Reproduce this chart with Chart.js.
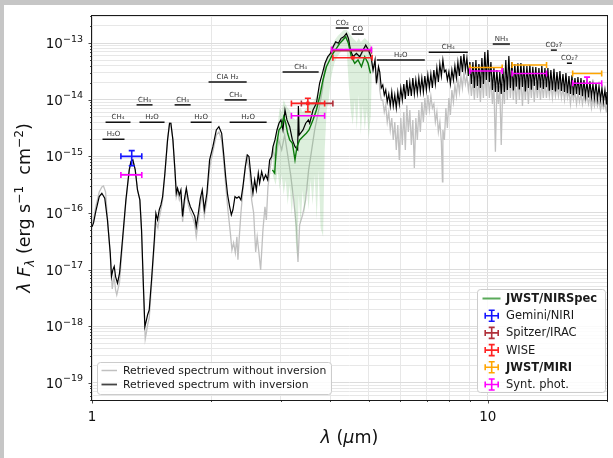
<!DOCTYPE html>
<html>
<head>
<meta charset="utf-8">
<script src="https://cdn.jsdelivr.net/npm/chart.js@4.4.1/dist/chart.umd.min.js"></script>
<style>
html,body{margin:0;padding:0;background:#fff;overflow:hidden;}
#wrap{position:relative;width:613px;height:458px;}
canvas{display:block;}
</style>
</head>
<body>
<div id="wrap"><canvas id="chart" width="613" height="458"></canvas></div>
<script>
// ---------------- DATA ----------------
// [wavelength (um), lambda*F_lambda (erg s^-1 cm^-2)]
const blackSpectrum = [
[1.000,5.69e-17],[1.009,6.68e-17],[1.022,1.06e-16],[1.043,1.95e-16],[1.059,2.23e-16],[1.077,1.82e-16],[1.094,7.55e-17],[1.112,1.98e-17],[1.120,7.55e-18],[1.129,9.9e-18],[1.138,1.14e-17],[1.147,7.55e-18],[1.160,5.78e-18],[1.174,8.79e-18],[1.194,3.36e-17],[1.218,1.70e-16],[1.242,5.75e-16],[1.254,8.07e-16],[1.268,8.65e-16],[1.286,5.75e-16],[1.303,2.55e-16],[1.321,1.70e-16],[1.334,5.04e-17],[1.347,6.61e-18],[1.360,9.9e-19],[1.373,1.30e-18],[1.382,1.60e-18],[1.395,1.95e-18],[1.414,6.61e-18],[1.437,3.36e-17],[1.450,9.9e-17],[1.464,7.55e-17],[1.479,1.14e-16],[1.493,1.39e-16],[1.508,1.95e-16],[1.528,5.04e-16],[1.552,1.95e-15],[1.570,3.84e-15],[1.582,3.84e-15],[1.601,1.95e-15],[1.620,5.75e-16],[1.633,2.23e-16],[1.645,2.74e-16],[1.662,2.08e-16],[1.677,2.55e-16],[1.694,8.65e-17],[1.711,1.70e-16],[1.731,2.74e-16],[1.751,1.70e-16],[1.771,1.30e-16],[1.795,1.06e-16],[1.819,8.65e-17],[1.834,5.75e-17],[1.856,9.9e-17],[1.878,1.82e-16],[1.899,2.55e-16],[1.922,1.14e-16],[1.951,2.23e-16],[1.982,8.65e-16],[2.020,1.48e-15],[2.061,2.92e-15],[2.092,3.34e-15],[2.126,2.55e-15],[2.150,1.14e-15],[2.176,4.39e-16],[2.201,2.08e-16],[2.227,1.30e-16],[2.249,9.25e-17],[2.270,1.14e-16],[2.297,1.95e-16],[2.323,1.82e-16],[2.350,1.95e-16],[2.378,1.70e-16],[2.406,2.92e-16],[2.440,6.58e-16],[2.468,1.06e-15],[2.492,9.9e-16],[2.512,5.75e-16],[2.531,3.36e-16],[2.550,2.23e-16],[2.576,3.84e-16],[2.601,2.55e-16],[2.631,5.04e-16],[2.651,3.36e-16],[2.683,5.37e-16],[2.714,3.84e-16],[2.746,4.70e-16],[2.778,3.84e-16],[2.811,8.65e-16],[2.844,9.9e-16],[2.866,1.48e-15],[2.899,1.95e-15],[2.933,2.92e-15],[2.967,3.84e-15],[3.002,4.39e-15],[3.037,2.92e-15],[3.073,6.58e-15],[3.108,4.39e-15],[3.158,3.34e-15],[3.208,1.95e-15],[3.257,1.48e-15],[3.308,1.30e-15],[3.322,7.74e-15],[3.337,2.38e-15],[3.412,2.92e-15],[3.466,3.84e-15],[3.521,4.39e-15],[3.548,3.84e-15],[3.617,6.58e-15],[3.689,8.65e-15],[3.759,1.95e-14],[3.820,2.92e-14],[3.878,4.39e-14],[3.940,5.73e-14],[4.003,6.58e-14],[4.064,8.6e-14],[4.128,1.05e-13],[4.193,9.9e-14],[4.257,1.21e-13],[4.325,1.29e-13],[4.393,1.48e-13],[4.445,1.21e-13],[4.497,7.52e-14],[4.565,5.73e-14],[4.656,6.58e-14],[4.747,5.73e-14],[4.839,7.52e-14],[4.915,9.2e-14],[4.993,7.52e-14],[5.069,5.73e-14],[5.129,3.34e-14],[5.188,5.01e-14],[5.232,1.95e-14],[5.294,3.82e-14],
[5.333,3.08e-14],[5.380,1.61e-14],[5.427,1.82e-14],[5.475,1.21e-14],[5.522,1.48e-14],[5.570,9.11e-15],[5.620,1.26e-14],[5.669,7.74e-15],[5.719,1.37e-14],[5.769,7.74e-15],[5.820,1.21e-14],[5.871,7.14e-15],[5.923,1.37e-14],[5.975,8.39e-15],[6.027,1.61e-14],[6.080,9.88e-15],[6.134,1.89e-14],[6.188,1.03e-14],[6.242,2.23e-14],[6.297,1.16e-14],[6.352,2.05e-14],[6.408,1.16e-14],[6.464,2.41e-14],[6.521,1.26e-14],[6.578,2.23e-14],[6.636,1.31e-14],[6.694,2.41e-14],[6.753,1.37e-14],[6.812,2.41e-14],[6.872,1.37e-14],[6.932,2.62e-14],[6.993,1.48e-14],[7.054,2.73e-14],[7.116,1.61e-14],[7.179,2.84e-14],[7.242,1.61e-14],[7.305,3.34e-14],[7.369,1.89e-14],[7.434,3.62e-14],[7.499,2.05e-14],[7.565,4.26e-14],[7.631,2.62e-14],[7.699,5.01e-14],[7.767,3.08e-14],[7.834,3.34e-14],[7.903,2.23e-14],[7.972,3.08e-14],[8.042,1.89e-14],[8.113,3.34e-14],[8.184,2.23e-14],[8.256,3.93e-14],[8.328,2.41e-14],[8.401,4.62e-14],[8.475,2.62e-14],[8.549,5.90e-14],[8.624,3.08e-14],[8.700,6.40e-14],[8.776,3.34e-14],[8.853,5.44e-14],[8.931,2.62e-14],[9.009,4.62e-14],[9.088,1.89e-14],[9.168,4.62e-14],[9.248,1.61e-14],[9.330,5.01e-14],[9.412,1.74e-14],[9.494,4.26e-14],[9.577,1.61e-14],[9.661,5.44e-14],[9.746,1.89e-14],[9.827,6.94e-14],[9.913,2.23e-14],[10.00,7.52e-14],[10.09,2.05e-14],[10.18,4.62e-14],[10.27,1.48e-14],[10.36,3.62e-14],[10.45,1.37e-14],[10.54,3.34e-14],[10.63,1.37e-14],[10.72,3.08e-14],[10.81,1.26e-14],[10.91,3.62e-14],[11.01,1.37e-14],[11.10,5.01e-14],[11.20,1.48e-14],[11.30,5.90e-14],[11.40,1.61e-14],[11.50,4.62e-14],[11.60,1.45e-14],[11.70,4.26e-14],[11.80,1.70e-14],[11.91,4.40e-14],[12.01,1.52e-14],[12.12,4.44e-14],[12.23,1.68e-14],[12.33,4.09e-14],[12.44,1.40e-14],[12.55,3.93e-14],[12.66,1.61e-14],[12.77,4.10e-14],[12.88,1.50e-14],[12.99,3.80e-14],[13.10,1.75e-14],[13.22,3.77e-14],[13.34,1.48e-14],[13.46,3.62e-14],[13.58,1.62e-14],[13.69,3.93e-14],[13.81,1.55e-14],[13.94,3.62e-14],[14.06,1.66e-14],[14.18,3.62e-14],[14.30,1.44e-14],[14.43,3.34e-14],[14.56,1.48e-14],[14.69,3.50e-14],[14.82,1.40e-14],[14.95,3.08e-14],[15.08,1.52e-14],[15.21,3.20e-14],[15.34,1.42e-14],[15.48,2.84e-14],[15.62,1.37e-14],[15.75,2.95e-14],[15.89,1.30e-14],[16.03,2.62e-14],[16.17,1.26e-14],[16.31,2.70e-14],[16.45,1.20e-14],[16.60,2.41e-14],[16.75,1.26e-14],[16.89,2.50e-14],[17.04,1.21e-14],[17.19,2.41e-14],[17.34,1.15e-14],[17.49,2.23e-14],[17.64,1.16e-14],[17.80,2.05e-14],[17.96,1.10e-14],[18.11,2.10e-14],[18.27,1.115e-14],[18.43,1.89e-14],[18.59,1.07e-14],[18.76,1.95e-14],[18.92,1.02e-14],[19.09,1.74e-14],[19.26,9.88e-15],[19.42,1.61e-14],[19.59,9.11e-15],[19.76,1.48e-14],[19.93,8.39e-15],[19.99,1.37e-14]
];

const greySpectrum = [
[1.000,6.42e-17],[1.009,7.55e-17],[1.022,1.28e-16],[1.043,2.36e-16],[1.059,2.89e-16],[1.069,3.00e-16],[1.082,2.36e-16],[1.094,8.19e-17],[1.112,1.75e-17],[1.125,4.58e-18],[1.133,6.61e-18],[1.138,7.46e-18],[1.147,4.40e-18],[1.155,3.59e-18],[1.174,6.09e-18],[1.194,2.85e-17],[1.218,1.57e-16],[1.242,5.75e-16],[1.254,8.30e-16],[1.268,8.64e-16],[1.286,5.75e-16],[1.303,2.55e-16],[1.321,1.70e-16],[1.334,4.64e-17],[1.347,5.39e-18],[1.363,6.0e-19],[1.373,8.0e-19],[1.382,1.06e-18],[1.395,1.41e-18],[1.414,5.39e-18],[1.437,2.74e-17],[1.450,6.97e-17],[1.467,5.46e-17],[1.479,8.19e-17],[1.493,1.13e-16],[1.508,1.70e-16],[1.528,4.70e-16],[1.552,1.95e-15],[1.570,3.88e-15],[1.582,3.88e-15],[1.601,1.95e-15],[1.620,5.31e-16],[1.633,1.92e-16],[1.645,2.36e-16],[1.662,1.70e-16],[1.677,2.09e-16],[1.694,6.97e-17],[1.711,1.39e-16],[1.731,2.36e-16],[1.751,1.39e-16],[1.771,1.05e-16],[1.795,8.53e-17],[1.819,6.17e-17],[1.834,3.79e-17],[1.856,6.97e-17],[1.878,1.39e-16],[1.899,2.09e-16],[1.922,8.89e-17],[1.951,1.70e-16],[1.982,6.24e-16],[2.020,1.20e-15],[2.061,2.38e-15],[2.092,2.69e-15],[2.126,1.95e-15],[2.150,8.64e-16],[2.176,3.13e-16],[2.205,1.13e-16],[2.236,4.46e-17],[2.257,2.23e-17],[2.279,2.97e-17],[2.302,1.98e-17],[2.323,3.79e-17],[2.337,1.49e-17],[2.353,3.35e-17],[2.378,1.00e-16],[2.406,2.55e-16],[2.454,9.76e-16],[2.502,5.75e-16],[2.531,1.70e-16],[2.561,1.00e-16],[2.591,2.06e-17],[2.614,3.79e-17],[2.641,1.98e-17],[2.667,9.92e-18],[2.703,5.03e-17],[2.735,1.28e-16],[2.757,7.55e-17],[2.783,2.89e-16],[2.822,6.50e-16],[2.865,1.30e-15],[2.911,8.64e-16],[2.962,1.95e-15],[3.014,1.30e-15],[3.067,2.38e-15],[3.121,1.06e-15],[3.176,4.70e-16],[3.232,1.70e-16],[3.283,5.69e-17],[3.314,1.37e-17],[3.346,6.17e-17],[3.405,9.26e-17],[3.465,1.70e-16],[3.526,5.75e-16],[3.589,1.30e-15],[3.652,2.92e-15],[3.717,5.37e-15],[3.781,9.88e-15],[3.826,1.61e-14],[3.878,4.2e-14],[3.940,5.5e-14],[4.003,6.3e-14],[4.064,8.2e-14],[4.128,1.0e-13],[4.193,9.5e-14],[4.257,1.15e-13],[4.325,1.23e-13],[4.393,1.4e-13],[4.445,1.15e-13],[4.497,7.2e-14],[4.565,5.5e-14],[4.656,6.3e-14],[4.747,5.5e-14],[4.839,7.2e-14],[4.915,8.8e-14],[4.993,7.2e-14],[5.069,5.5e-14],[5.129,3.2e-14],[5.188,4.8e-14],[5.232,1.85e-14],[5.294,3.6e-14],
[5.333,1.48e-14],[5.380,9.88e-15],[5.427,9.88e-15],[5.475,6.07e-15],[5.522,8.06e-15],[5.570,4.04e-15],[5.620,6.07e-15],[5.669,2.92e-15],[5.719,4.75e-15],[5.769,1.95e-15],[5.820,4.04e-15],[5.871,1.30e-15],[5.923,3.58e-15],[5.975,8.64e-16],[6.027,4.75e-15],[6.080,1.59e-15],[6.134,6.07e-15],[6.188,1.30e-15],[6.242,8.06e-15],[6.297,2.69e-15],[6.352,6.58e-15],[6.408,1.59e-15],[6.464,4.39e-15],[6.521,6.24e-16],[6.578,4.75e-15],[6.636,1.95e-15],[6.694,6.58e-15],[6.753,2.69e-15],[6.812,9.11e-15],[6.872,4.04e-15],[6.932,1.07e-14],[6.993,5.37e-15],[7.054,1.21e-14],[7.116,6.58e-15],[7.179,1.16e-14],[7.242,7.14e-15],[7.305,8.39e-15],[7.369,4.04e-15],[7.434,6.07e-15],[7.499,2.69e-15],[7.565,4.04e-15],[7.631,1.79e-15],[7.680,3.54e-16],[7.699,2.92e-15],[7.767,1.95e-15],[7.834,7.14e-15],[7.903,3.17e-15],[7.972,1.07e-14],[8.042,5.37e-15],[8.113,1.48e-14],[8.184,9.11e-15],[8.256,1.82e-14],[8.328,1.16e-14],[8.401,2.23e-14],[8.475,1.37e-14],[8.549,2.62e-14],[8.624,1.61e-14],[8.700,3.08e-14],[8.776,1.89e-14],[8.853,2.62e-14],[8.931,1.48e-14],[9.009,2.41e-14],[9.088,1.16e-14],[9.168,2.23e-14],[9.248,9.88e-15],[9.330,2.62e-14],[9.412,1.07e-14],[9.494,2.23e-14],[9.577,9.11e-15],[9.661,2.62e-14],[9.746,1.07e-14],[9.827,3.34e-14],[9.913,1.16e-14],[10.00,3.62e-14],[10.09,1.07e-14],[10.18,2.41e-14],[10.27,8.39e-15],[10.36,1.89e-14],[10.45,1.20e-15],[10.54,1.74e-14],[10.63,8.39e-15],[10.72,1.74e-14],[10.81,1.59e-15],[10.91,1.89e-14],[11.01,8.39e-15],[11.10,2.62e-14],[11.20,9.88e-15],[11.30,3.08e-14],[11.40,1.07e-14],[11.50,2.62e-14],[11.60,9.88e-15],[11.70,2.41e-14],[11.80,8.39e-15],[11.91,2.41e-14],[12.01,9.88e-15],[12.12,2.41e-14],[12.23,7.74e-15],[12.33,2.23e-14],[12.44,9.88e-15],[12.55,2.23e-14],[12.66,8.39e-15],[12.77,2.23e-14],[12.88,1.07e-14],[12.99,2.23e-14],[13.10,9.11e-15],[13.22,2.05e-14],[13.34,1.07e-14],[13.46,2.05e-14],[13.58,9.88e-15],[13.69,2.05e-14],[13.81,1.07e-14],[13.94,2.05e-14],[14.06,1.07e-14],[14.18,1.89e-14],[14.30,1.16e-14],[14.43,1.89e-14],[14.56,1.07e-14],[14.69,1.89e-14],[14.82,1.16e-14],[14.95,1.74e-14],[15.08,1.16e-14],[15.21,1.74e-14],[15.34,1.07e-14],[15.48,1.61e-14],[15.62,9.88e-15],[15.75,1.61e-14],[15.89,1.07e-14],[16.03,1.48e-14],[16.17,8.39e-15],[16.31,1.48e-14],[16.45,9.88e-15],[16.60,1.37e-14],[16.75,8.39e-15],[16.89,1.37e-14],[17.04,9.11e-15],[17.19,1.26e-14],[17.34,8.39e-15],[17.49,1.26e-14],[17.64,9.11e-15],[17.80,1.16e-14],[17.96,8.39e-15],[18.11,1.16e-14],[18.27,7.14e-15],[18.43,1.07e-14],[18.59,7.74e-15],[18.76,1.07e-14],[18.92,7.74e-15],[19.09,9.88e-15],[19.26,6.58e-15],[19.42,9.11e-15],[19.59,7.14e-15],[19.76,8.39e-15],[19.93,6.07e-15],[19.99,8.39e-15]
];

// JWST/NIRSpec spectrum
const nirspecLine = [
[2.856,5.75e-16],[2.894,5.03e-16],[2.922,1.48e-15],[2.967,2.92e-15],[3.009,3.34e-15],[3.050,5.01e-15],[3.086,3.84e-15],[3.121,2.55e-15],[3.158,1.95e-15],[3.208,1.70e-15],[3.257,8.64e-16],[3.295,1.48e-15],[3.346,1.95e-15],[3.412,2.23e-15],[3.479,2.55e-15],[3.533,2.92e-15],[3.616,4.39e-15],[3.689,6.58e-15],[3.759,1.13e-14],[3.833,2.23e-14],[3.910,3.82e-14],[3.986,5.01e-14],[4.064,6.58e-14],[4.145,8.06e-14],[4.226,9.88e-14],[4.305,1.13e-13],[4.374,1.29e-13],[4.443,9.88e-14],[4.521,5.73e-14],[4.610,4.39e-14],[4.700,5.01e-14],[4.794,3.82e-14],[4.887,5.73e-14],[4.982,4.39e-14],[5.052,2.92e-14]
];
// NIRSpec uncertainty envelope: [wavelength, lower, upper]
const nirspecBand = [
[2.861,4.70e-16,1.59e-15],[2.911,3.13e-16,2.38e-15],[2.945,5.75e-16,3.58e-15],[2.979,2.55e-16,7.14e-15],[3.014,4.70e-16,6.07e-15],[3.050,2.09e-16,9.88e-15],[3.086,3.84e-16,8.06e-15],[3.121,1.39e-16,7.14e-15],[3.158,3.13e-16,6.58e-15],[3.195,9.26e-17,5.37e-15],[3.232,2.55e-16,4.75e-15],[3.270,3.35e-17,4.39e-15],[3.299,1.61e-17,4.75e-15],[3.328,2.09e-16,6.58e-15],[3.367,6.17e-17,7.14e-15],[3.405,2.55e-16,6.07e-15],[3.445,9.26e-17,6.58e-15],[3.485,3.13e-16,7.14e-15],[3.526,1.13e-16,8.06e-15],[3.567,3.84e-16,8.39e-15],[3.609,1.39e-16,9.11e-15],[3.652,4.70e-16,9.88e-15],[3.695,7.55e-17,1.21e-14],[3.738,5.75e-16,1.48e-14],[3.781,5.46e-17,1.82e-14],[3.835,3.79e-17,2.73e-14],[3.871,1.30e-15,3.62e-14],[3.916,6.58e-15,4.62e-14],[3.963,9.88e-15,6.14e-14],[4.009,2.23e-14,7.52e-14],[4.056,3.34e-14,9.22e-14],[4.104,4.62e-14,1.13e-13],[4.176,5.90e-14,1.33e-13],[4.250,6.94e-14,1.50e-13],[4.324,8.16e-14,1.70e-13],[4.400,7.52e-14,1.70e-13],[4.452,1.82e-14,1.56e-13],[4.504,6.58e-15,1.38e-13],[4.557,3.58e-15,1.23e-13],[4.610,9.88e-15,1.13e-13],[4.665,2.92e-15,1.04e-13],[4.719,1.21e-14,1.23e-13],[4.775,2.38e-15,1.04e-13],[4.831,8.06e-15,1.13e-13],[4.887,2.92e-15,1.23e-13],[4.945,6.58e-15,1.13e-13],[5.003,2.11e-15,1.04e-13],[5.061,5.37e-15,9.22e-14],[5.090,2.23e-14,7.52e-14]
];

// photometry (error bars)
const geminiWave=[1.26], geminiWaveLo=[1.183], geminiWaveHi=[1.336];
const geminiFlux=[1.0e-15], geminiFluxLo=[0.68e-15], geminiFluxHi=[1.26e-15];
const spitzerWave=[3.71,4.52], spitzerWaveLo=[3.38,4.03], spitzerWaveHi=[4.06,5.08];
const spitzerFlux=[8.6e-15,7.3e-14];
const wiseWave=[3.51,4.56], wiseWaveLo=[3.19,4.06], wiseWaveHi=[3.87,5.10];
const wiseFlux=[8.6e-15,5.5e-14], wiseFluxLo=[6.1e-15,5.5e-14], wiseFluxHi=[1.06e-14,5.5e-14];
const miriWave=[9.90,12.73,17.81], miriWaveLo=[9.01,11.52,16.38], miriWaveHi=[10.87,14.07,19.39];
const miriFlux=[3.7e-14,4.1e-14,2.9e-14];
const synthWave=[1.26,3.51,4.52,9.90,12.73,17.81], synthWaveLo=[1.183,3.19,4.03,9.01,11.52,16.38], synthWaveHi=[1.336,3.87,5.08,10.87,14.07,19.39];
const synthFlux=[4.7e-16,5.2e-15,7.7e-14,3.2e-14,2.9e-14,1.95e-14], synthFluxHi=[4.7e-16,5.2e-15,7.7e-14,3.2e-14,2.9e-14,2.5e-14];

// molecular band annotations
const molLabels=['H₂O','CH₄','H₂O','CH₄','CH₄','H₂O','CIA H₂','CH₄','H₂O','CH₄','CO₂','CO','H₂O','CH₄','NH₃','CO₂?','CO₂?'];
const molStart=[1.063,1.082,1.318,1.296,1.617,1.775,1.970,2.163,2.227,3.03,4.128,4.53,5.24,7.09,10.29,14.43,15.84];
const molEnd=[1.208,1.251,1.525,1.422,1.775,2.005,2.459,2.459,2.762,3.738,4.453,4.86,6.93,8.90,11.37,14.94,16.31];
const molLevel=[2.0e-15,4.0e-15,4.0e-15,8.1e-15,8.1e-15,4.0e-15,2.05e-14,9.9e-15,4.0e-15,3.08e-14,1.84e-13,1.44e-13,5.0e-14,6.9e-14,9.6e-14,7.5e-14,4.4e-14];

// axes
const xTickValues=[1,2,3,4,5,6,7,8,9,10,20];
const xTickLabels={1:'1',10:'10'};
const yDecades=[1e-20,1e-19,1e-18,1e-17,1e-16,1e-15,1e-14,1e-13];
const yMantissas=[1,2,3,4,5,6,7,8,9];
const yLabelExponents=[-19,-18,-17,-16,-15,-14,-13];
const xMin=1, xMax=20, yMin=5e-20, yMax=3e-13;

const legendLeftLabels=['Retrieved spectrum without inversion','Retrieved spectrum with inversion'];
const legendRightLabels=['JWST/NIRSpec','Gemini/NIRI','Spitzer/IRAC','WISE','JWST/MIRI','Synt. phot.'];

// ---------------- CHART ----------------
const FONT='"DejaVu Sans", "Liberation Sans", sans-serif';
const COL={gemini:'#1414ff',spitzer:'#b0303a',wise:'#ff2222',miri:'#ffa500',synth:'#ff00ff'};
function pts(arr,i){ i=i||1; return arr.map(p=>({x:p[0],y:p[i]})); }

const yTicks=[];
yDecades.forEach(d=>yMantissas.forEach(m=>{const v=m*d; if(v>=yMin*0.999&&v<=yMax*1.001) yTicks.push({value:v,major:m===1});}));
const xTicks=xTickValues.map(v=>({value:v,major:(v===1||v===10)}));

function fontOf(s){ return (s.st||'')+' '+s.sz+'px '+FONT; }
function rich(ctx,segs,x,y,align){
  let total=0; const w=segs.map(s=>{ctx.font=fontOf(s); const m=ctx.measureText(s.t).width; total+=m; return m;});
  let cx= align==='center'? x-total/2 : (align==='right'? x-total : x);
  ctx.textAlign='left';
  segs.forEach((s,i)=>{ctx.font=fontOf(s); ctx.fillText(s.t,cx,y+(s.dy||0)); cx+=w[i];});
}
function rrect(ctx,x,y,w,h,r){
  ctx.beginPath(); ctx.moveTo(x+r,y); ctx.lineTo(x+w-r,y); ctx.quadraticCurveTo(x+w,y,x+w,y+r);
  ctx.lineTo(x+w,y+h-r); ctx.quadraticCurveTo(x+w,y+h,x+w-r,y+h); ctx.lineTo(x+r,y+h);
  ctx.quadraticCurveTo(x,y+h,x,y+h-r); ctx.lineTo(x,y+r); ctx.quadraticCurveTo(x,y,x+r,y); ctx.closePath();
}
function errbars(ctx,xs,ys,color,wave,wLo,wHi,flux,fLo,fHi){
  ctx.strokeStyle=color; ctx.lineWidth=1.6;
  for(let i=0;i<wave.length;i++){
    const px=xs.getPixelForValue(wave[i]), py=ys.getPixelForValue(flux[i]);
    const x0=xs.getPixelForValue(wLo[i]), x1=xs.getPixelForValue(wHi[i]);
    ctx.beginPath();
    ctx.moveTo(x0,py); ctx.lineTo(x1,py);
    ctx.moveTo(x0,py-3); ctx.lineTo(x0,py+3);
    ctx.moveTo(x1,py-3); ctx.lineTo(x1,py+3);
    const lo=fLo?fLo[i]:flux[i], hi=fHi?fHi[i]:flux[i];
    if(lo!==hi){
      const y0=ys.getPixelForValue(lo), y1=ys.getPixelForValue(hi);
      ctx.moveTo(px,y0); ctx.lineTo(px,y1);
      ctx.moveTo(px-3,y0); ctx.lineTo(px+3,y0);
      ctx.moveTo(px-3,y1); ctx.lineTo(px+3,y1);
    }
    ctx.stroke();
  }
}
function errIcon(ctx,cx,cy,color){
  ctx.strokeStyle=color; ctx.lineWidth=1.6; ctx.beginPath();
  ctx.moveTo(cx-6.5,cy); ctx.lineTo(cx+6.5,cy);
  ctx.moveTo(cx-6.5,cy-3); ctx.lineTo(cx-6.5,cy+3);
  ctx.moveTo(cx+6.5,cy-3); ctx.lineTo(cx+6.5,cy+3);
  ctx.moveTo(cx,cy-5.5); ctx.lineTo(cx,cy+5.5);
  ctx.moveTo(cx-3,cy-5.5); ctx.lineTo(cx+3,cy-5.5);
  ctx.moveTo(cx-3,cy+5.5); ctx.lineTo(cx+3,cy+5.5);
  ctx.stroke();
}

const decor={
  id:'decor',
  beforeDraw(chart){
    const c=chart.ctx; c.save();
    c.fillStyle='#c6c6c6'; c.fillRect(0,0,chart.width,chart.height);
    c.fillStyle='#ffffff'; c.fillRect(4,5,chart.width-4,chart.height-5);
    c.restore();
  },
  afterDatasetsDraw(chart){
    const ctx=chart.ctx, a=chart.chartArea, xs=chart.scales.x, ys=chart.scales.y;
    ctx.save();
    // molecular annotations
    ctx.textBaseline='alphabetic';
    for(let i=0;i<molLabels.length;i++){
      const x0=xs.getPixelForValue(molStart[i]), x1=xs.getPixelForValue(molEnd[i]), py=ys.getPixelForValue(molLevel[i]);
      ctx.strokeStyle='#111'; ctx.lineWidth=1.5; ctx.beginPath(); ctx.moveTo(x0,py); ctx.lineTo(x1,py); ctx.stroke();
      ctx.fillStyle='#333';
      rich(ctx,[{t:molLabels[i],sz:7}],(x0+x1)/2,py-3,'center');
    }
    // error bars
    errbars(ctx,xs,ys,COL.gemini,geminiWave,geminiWaveLo,geminiWaveHi,geminiFlux,geminiFluxLo,geminiFluxHi);
    errbars(ctx,xs,ys,COL.spitzer,spitzerWave,spitzerWaveLo,spitzerWaveHi,spitzerFlux,null,null);
    errbars(ctx,xs,ys,COL.wise,wiseWave,wiseWaveLo,wiseWaveHi,wiseFlux,wiseFluxLo,wiseFluxHi);
    ctx.fillStyle=COL.wise;
    wiseWave.forEach((w,i)=>{const px=xs.getPixelForValue(w),py=ys.getPixelForValue(wiseFlux[i]); ctx.fillRect(px-1.8,py-1.8,3.6,3.6);});
    errbars(ctx,xs,ys,COL.miri,miriWave,miriWaveLo,miriWaveHi,miriFlux,null,null);
    errbars(ctx,xs,ys,COL.synth,synthWave,synthWaveLo,synthWaveHi,synthFlux,synthFlux,synthFluxHi);

    // frame
    ctx.strokeStyle='#1a1a1a'; ctx.lineWidth=1;
    ctx.strokeRect(Math.round(a.left)-0.5,Math.round(a.top)-0.5,Math.round(a.right-a.left)+1,Math.round(a.bottom-a.top)+1);
    // ticks
    ctx.beginPath();
    xTicks.forEach(t=>{const px=Math.round(xs.getPixelForValue(t.value))+0.5; const L=t.major?3.5:2; ctx.moveTo(px,a.bottom); ctx.lineTo(px,a.bottom+L);});
    yTicks.forEach(t=>{const py=Math.round(ys.getPixelForValue(t.value))+0.5; const L=t.major?3.5:2; ctx.moveTo(a.left,py); ctx.lineTo(a.left-L,py);});
    ctx.lineWidth=0.8; ctx.stroke();
    // tick labels
    ctx.fillStyle='#111'; ctx.textBaseline='alphabetic';
    yLabelExponents.forEach(e=>{
      const py=ys.getPixelForValue(Math.pow(10,e));
      rich(ctx,[{t:'10',sz:13.5},{t:'\u2212'+Math.abs(e),sz:9.5,dy:-6.5}],83,py+5,'right');
    });
    Object.keys(xTickLabels).forEach(k=>{
      const px=xs.getPixelForValue(Number(k));
      rich(ctx,[{t:xTickLabels[k],sz:13.5}],px,421,'center');
    });
    // axis titles
    rich(ctx,[{t:'λ',st:'italic',sz:17.5},{t:' (',sz:17.5},{t:'μ',st:'italic',sz:17.5},{t:'m)',sz:17.5}],(a.left+a.right)/2,443,'center');
    ctx.save(); ctx.translate(30,(a.top+a.bottom)/2); ctx.rotate(-Math.PI/2);
    rich(ctx,[{t:'λ',st:'italic',sz:17.5},{t:' ',sz:17.5},{t:'F',st:'italic',sz:17.5},{t:'λ',st:'italic',sz:12.2,dy:4},{t:' (erg s',sz:17.5},{t:'\u22121',sz:12.2,dy:-7.5},{t:'  cm',sz:17.5},{t:'\u22122',sz:12.2,dy:-7.5},{t:')',sz:17.5}],0,0,'center');
    ctx.restore();

    // legend left
    rrect(ctx,97.5,362.5,234,32,3); ctx.fillStyle='rgba(255,255,255,0.85)'; ctx.fill(); ctx.strokeStyle='#cccccc'; ctx.lineWidth=1; ctx.stroke();
    ctx.lineWidth=1.5; ctx.strokeStyle='#c0c0c0'; ctx.beginPath(); ctx.moveTo(101.5,370.5); ctx.lineTo(117,370.5); ctx.stroke();
    ctx.lineWidth=1.8; ctx.strokeStyle='#444'; ctx.beginPath(); ctx.moveTo(101.5,384.5); ctx.lineTo(117,384.5); ctx.stroke();
    ctx.fillStyle='#1a1a1a'; ctx.textBaseline='middle';
    rich(ctx,[{t:legendLeftLabels[0],sz:10.8}],123,371,'left');
    rich(ctx,[{t:legendLeftLabels[1],sz:10.8}],123,385,'left');

    // legend right
    rrect(ctx,477.5,289.5,128,103,3); ctx.fillStyle='rgba(255,255,255,0.85)'; ctx.fill(); ctx.strokeStyle='#cccccc'; ctx.lineWidth=1; ctx.stroke();
    const cols=[null,COL.gemini,COL.spitzer,COL.wise,COL.miri,COL.synth];
    const bold=[true,false,false,false,true,false];
    legendRightLabels.forEach((lab,i)=>{
      const cy=298.5+i*17.2;
      if(i===0){ ctx.strokeStyle='#5aaa5a'; ctx.lineWidth=2; ctx.beginPath(); ctx.moveTo(482.5,cy); ctx.lineTo(500.5,cy); ctx.stroke(); }
      else errIcon(ctx,491.7,cy,cols[i]);
      ctx.fillStyle='#1a1a1a'; ctx.textBaseline='middle';
      rich(ctx,[{t:lab,sz:11.5,st:bold[i]?'bold':''}],506,cy+0.5,'left');
    });
    ctx.restore();
  }
};

const gridColor=c=>(c.tick&&c.tick.major)?'#dcdcdc':'#e7e7e7';

new Chart(document.getElementById('chart'),{
  type:'line',
  data:{datasets:[
    {label:'without inversion',data:pts(greySpectrum),borderColor:'#c0c0c0',borderWidth:1.3,pointRadius:0,tension:0,fill:false,order:10},
    {label:'nirspec lo',data:pts(nirspecBand,1),borderColor:'rgba(0,0,0,0)',borderWidth:0,pointRadius:0,tension:0,fill:false,order:9},
    {label:'nirspec hi',data:pts(nirspecBand,2),borderColor:'rgba(0,0,0,0)',borderWidth:0,pointRadius:0,tension:0,fill:'-1',backgroundColor:'rgba(100,180,100,0.22)',order:8},
    {label:'with inversion',data:pts(blackSpectrum),borderColor:'#000000',borderWidth:1.2,pointRadius:0,tension:0,fill:false,order:7},
    {label:'JWST/NIRSpec',data:pts(nirspecLine),borderColor:'#0b7a0b',borderWidth:1.4,pointRadius:0,tension:0,fill:false,order:6}
  ]},
  options:{
    responsive:false, animation:false, devicePixelRatio:1, events:[],
    layout:{padding:{left:0,right:6,top:16,bottom:0}},
    plugins:{legend:{display:false},tooltip:{enabled:false},title:{display:false}},
    scales:{
      x:{type:'logarithmic',min:xMin,max:xMax,
         afterBuildTicks:s=>{s.ticks=xTicks.map(t=>({value:t.value,major:t.major}));},
         afterFit:s=>{s.height=58;},
         ticks:{display:false},
         grid:{color:gridColor,lineWidth:1,drawTicks:false},
         border:{display:false}},
      y:{type:'logarithmic',min:yMin,max:yMax,
         afterBuildTicks:s=>{s.ticks=yTicks.map(t=>({value:t.value,major:t.major}));},
         afterFit:s=>{s.width=92;},
         ticks:{display:false},
         grid:{color:gridColor,lineWidth:1,drawTicks:false},
         border:{display:false}}
    }
  },
  plugins:[decor]
});
</script>
</body>
</html>
